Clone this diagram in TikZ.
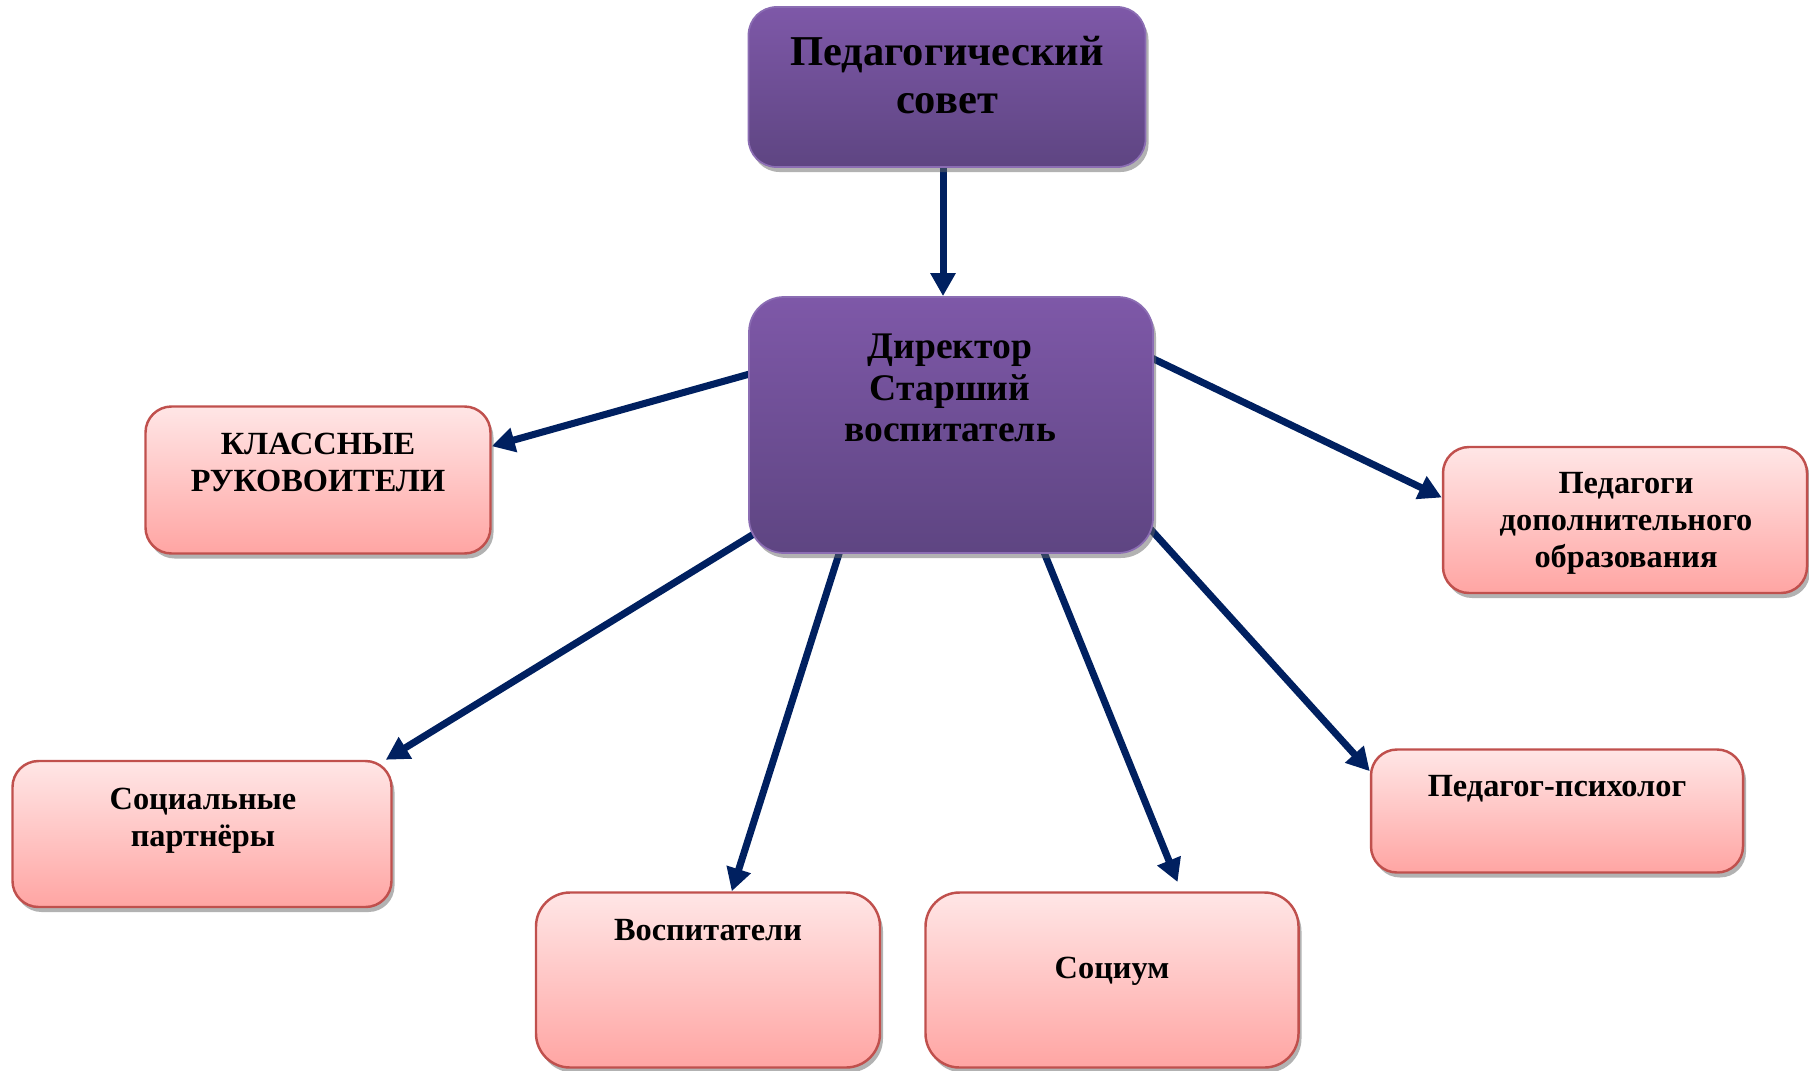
\documentclass[tikz,border=0pt]{standalone}
\usepackage{fontspec}
\setmainfont{Liberation Serif}
\usepackage{xcolor}
\usepackage{tikz}
\usetikzlibrary{arrows.meta,positioning,calc,shadows,backgrounds}

\definecolor{navy}{HTML}{002060}
\definecolor{violTop}{HTML}{7E58A8}
\definecolor{violBot}{HTML}{5E4582}
\definecolor{violLine}{HTML}{8B6DB3}
\definecolor{pinkTop}{HTML}{FFE6E6}
\definecolor{pinkBot}{HTML}{FFA5A3}
\definecolor{pinkLine}{HTML}{C0504D}

\begin{document}
\begin{tikzpicture}[
    x=0.1mm, y=-0.1mm,
    head/.style={rectangle, draw=violLine, line width=0.5pt,
                 top color=violTop, bottom color=violBot,
                 drop shadow={shadow xshift=0.3mm, shadow yshift=-0.5mm,
                              fill=black!60, opacity=0.5}},
    unit/.style={rectangle, draw=pinkLine, line width=0.7pt, rounded corners=2.6mm,
                 top color=pinkTop, bottom color=pinkBot,
                 drop shadow={shadow xshift=0.3mm, shadow yshift=-0.5mm,
                              fill=black!60, opacity=0.5}},
    txtbig/.style={inner sep=0pt, align=center,
                   font=\fontsize{12.1}{13.7}\selectfont\bfseries},
    txtmid/.style={inner sep=0pt, align=center,
                   font=\fontsize{10.7}{11.9}\selectfont\bfseries},
    txtsmall/.style={inner sep=0pt, align=center,
                     font=\fontsize{9.2}{10.5}\selectfont\bfseries},
    link/.style={draw=navy, line width=2pt,
                 -{Triangle[length=2.3mm, width=2.4mm]}},
  ]
  \useasboundingbox (0,0) rectangle (1809,1070);

  % Top boxes
  \node[head, rounded corners=2.8mm, minimum width=39.7mm, minimum height=16mm] (sov) at (947,87) {};
  \node[head, rounded corners=3.5mm, minimum width=40.4mm, minimum height=25.6mm] (dir) at (951,425) {};

  % Lower boxes
  \node[unit, minimum width=34.5mm, minimum height=14.7mm] (kl) at (318,480) {};
  \node[unit, minimum width=36.4mm, minimum height=14.6mm] (dop) at (1625,520) {};
  \node[unit, minimum width=37.9mm, minimum height=14.6mm] (sp) at (202,834) {};
  \node[unit, minimum width=37.2mm, minimum height=12.3mm] (psy) at (1557,811) {};
  \node[unit, rounded corners=3.4mm, minimum width=34.4mm, minimum height=17.5mm] (vos) at (708,980) {};
  \node[unit, rounded corners=3.4mm, minimum width=37.3mm, minimum height=17.5mm] (soc) at (1112,980) {};

  % Labels
  \node[txtbig] (sov-t) at (947,75) {Педагогический\\совет};
  \node[txtmid] (dir-t) at (950,388) {Директор\\Старший\\воспитатель};
  \node[txtsmall] (kl-t) at (318,462) {КЛАССНЫЕ\\РУКОВОИТЕЛИ};
  \node[txtsmall] (dop-t) at (1626,523) {Педагоги\\дополнительного\\образования};
  \node[txtsmall] (sp-t) at (203,821) {Социальные\\партнёры};
  \node[txtsmall] (psy-t) at (1557,789) {Педагог-психолог};
  \node[txtsmall] (vos-t) at (708,930) {Воспитатели};
  \node[txtsmall] (soc-t) at (1112,971) {Социум};

  % Arrows
  \begin{pgfonlayer}{background}
    \draw[link] (sov.south -| 943,0) -- (dir.north -| 943,0);
    \draw[link, shorten <=-2mm] (dir.166) -- (kl.11);
    \draw[link, shorten <=-2mm] (dir.18.5) -- (dop.173);
    \draw[link, shorten <=-2mm] (dir.209) -- (sp.22);
    \draw[link, shorten <=-2mm] (dir.229) -- (vos.75);
    \draw[link, shorten <=-2mm, shorten >=1mm] (dir.-54) -- (soc.52);
    \draw[link, shorten <=-2mm] (dir.-28) -- (psy.168);
  \end{pgfonlayer}
\end{tikzpicture}
\end{document}
